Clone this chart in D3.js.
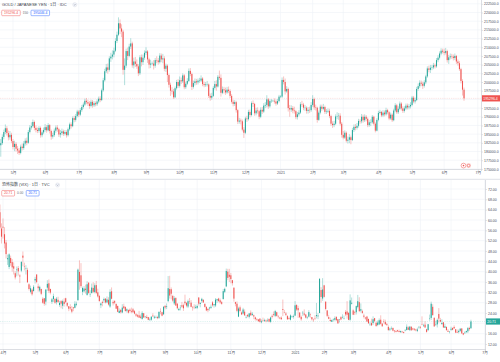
<!DOCTYPE html>
<html>
<head>
<meta charset="utf-8">
<script src="https://cdn.jsdelivr.net/npm/d3@7"></script>
<style>
html, body { margin: 0; padding: 0; background: #fff; }
svg { display: block; font-family: "Liberation Sans", Arial, "Noto Sans CJK JP", sans-serif; }
</style>
</head>
<body>
<div id="chart"></div>
<script>
// ---- data ----
var monthLabels = ["1月", "2月", "3月", "4月", "5月", "6月", "7月", "8月", "9月", "10月", "11月", "12月"];

var goldTitle = "GOLD / JAPANESE YEN · 1日 · IDC";
var goldQuote = ["195296.4", "150", "195446.4"];
var goldStart = new Date(2020, 3, 21);   // first bar, daily bars on weekdays
var goldHolidays = [];

var goldOpen = [
  181800,182400,184200,185600,186700,185300,184100,184800,183000,181300,
  182200,180800,180300,179600,181400,181000,182300,183100,182500,185600,
  186900,187300,188500,186800,186200,185900,186800,184700,185500,186200,
  187000,186100,187600,185900,184300,184700,186000,186900,186400,184900,
  185300,185800,185100,185600,184700,186400,187800,187300,189600,189100,
  190200,191500,190600,191900,192800,193500,194600,194200,193800,193100,
  194300,193300,193900,193600,194400,195200,194800,197600,200500,203100,
  204200,203500,206800,207300,207900,209000,211800,213600,216900,215400,
  214500,203500,204700,208900,207500,210200,211100,204800,205900,205200,
  204500,202500,207100,205700,207000,208400,208800,206500,205000,205300,
  205300,204700,206300,206200,205700,207600,206500,206800,203800,204700,
  202000,199200,197500,197300,195600,198200,200000,198900,200500,200200,
  201900,198500,199500,200300,203200,202300,198600,199700,200200,199900,
  200400,200400,201000,199400,199100,199300,199300,196000,195500,196000,
  198300,199400,198700,201500,201200,196900,197900,197600,197000,197800,
  197400,196000,194300,193700,194200,191900,188600,188900,188700,186300,
  185400,189500,189300,191400,190500,193900,193700,191000,191800,191600,
  190000,192000,191500,193200,193400,195000,193000,194500,194600,194600,
  194400,193800,194500,195800,195800,200600,200000,197300,198000,192500,
  192100,192500,191800,191600,189900,190700,191200,193600,193500,192600,
  192600,191700,192000,191900,193400,195100,192700,192600,189100,191200,
  192900,192300,192800,191400,191500,191700,190200,188000,187600,188000,
  190100,190200,190300,188000,184800,184000,185400,183100,183400,184100,
  183300,186200,187100,186800,187400,188800,188700,190000,189000,190000,
  189400,187600,188400,188400,190000,188000,186000,189100,191100,191400,
  190400,191200,190700,191900,191300,189500,190600,189000,191800,193300,
  191300,192300,193800,192400,191700,192400,193200,192700,193000,193400,
  195500,194400,194800,198000,198800,199800,199500,198900,199900,201600,
  203900,203500,204100,204200,204800,204500,206300,207000,208200,209000,
  208700,208400,208900,206300,207100,207400,207300,206900,207500,205900,
  205400,203700,200300,197800
];
var goldHigh = [
  183600,184900,186300,187800,187300,186000,185900,185400,183600,183100,
  182700,181600,181000,182000,182300,183000,183800,184000,186200,187600,
  188400,189200,188900,187500,186900,187300,187200,186100,186900,187900,
  187600,188200,187900,186300,185400,186600,187500,187600,186800,186200,
  186600,186300,186200,186100,186900,188300,188400,190100,190300,190800,
  192000,191900,192500,193400,194100,195200,195400,194900,194500,194900,
  194800,194500,194400,195000,195800,195900,198100,201200,203800,205200,
  205300,207400,208400,209100,209900,212600,214500,218600,218000,216600,
  215000,206800,209600,209900,211000,212600,211600,207000,207200,206500,
  205100,207700,207900,207900,209100,210000,209200,207000,206400,205900,
  206300,206900,207400,206900,208300,208200,208100,207400,205300,205100,
  202400,199800,198500,198000,198700,200600,200800,201600,201300,202500,
  202300,200100,201100,203900,204000,202700,200400,201000,200900,201000,
  201200,201900,201400,200100,200000,200300,199600,196700,196900,198800,
  200300,200500,202000,203300,202200,198700,198600,198400,198600,198700,
  197900,196500,194900,194800,194600,192200,189700,189500,189200,187000,
  190000,190300,192000,192100,194400,194700,194000,192600,192700,192000,
  192700,192800,193900,194200,196200,195400,195000,195100,194900,195300,
  195000,195100,196300,196200,201300,201600,201000,198800,198400,193400,
  193300,193100,192900,192000,191400,191900,194200,194600,194000,193400,
  193000,192800,192900,194200,196200,195500,193500,192900,191800,193500,
  193500,193700,193200,192200,192400,192300,190600,188700,188800,190700,
  191300,191100,191000,188500,185900,186100,185800,184300,185000,184600,
  186800,187800,187900,188200,189400,189300,190800,190600,190700,190500,
  189800,189000,189300,190500,190300,188400,189600,191700,192000,191700,
  191900,191800,192600,192300,191600,191200,191000,192300,193900,193700,
  193000,194400,194200,193000,193000,193800,193800,193700,194200,196000,
  196000,195500,198600,199600,200500,200400,200100,200500,202100,204500,
  204700,204900,204900,205500,205300,206900,207700,208800,209700,209600,
  209600,209800,209300,207800,208200,208100,207900,208200,207800,206500,
  206000,204100,200800,198400
];
var goldLow = [
  178500,181900,183500,185000,184600,183200,183400,182400,180600,180100,
  180000,179300,179000,179200,180300,180500,181700,181800,182200,185200,
  186300,186900,186100,185500,185300,185400,184000,184100,185000,185700,
  185400,185800,185200,183400,183700,184200,185400,185700,184200,184000,
  184700,184500,184600,184000,184300,186000,186600,187000,188400,188600,
  189800,189900,190200,191400,192300,193100,193600,193100,192300,192700,
  192600,192800,193000,193100,193900,194200,194500,197200,200100,202600,
  202400,203000,205800,206500,207100,208600,211200,213200,213800,212900,
  202100,199100,204100,206300,207100,209500,204100,203900,204300,203800,
  201700,202000,204500,204900,206400,207800,205500,203900,204000,204800,
  203600,204100,205400,205000,205300,205700,205400,203100,202900,200000,
  198400,196000,196400,195100,195300,197800,198300,198400,199400,199700,
  197900,198000,199100,200000,201700,197700,198100,199000,199200,199300,
  199800,200000,198800,198500,198600,198700,195400,194600,194900,195700,
  197800,197500,198400,200600,195800,196500,196700,196300,196600,196800,
  195400,193800,193000,193100,191200,187900,188000,187800,185800,183900,
  185000,188500,188900,189800,190100,192800,190300,190400,190900,189300,
  189600,190800,191100,192500,192700,192300,192600,194000,194300,193800,
  193200,193400,194100,195400,195400,199300,196400,196900,191500,190000,
  191400,191000,190900,189300,189200,190100,190800,192800,191900,191700,
  190900,190900,191100,191400,192900,192000,191800,188300,188800,190700,
  191700,191900,190800,190800,191100,189600,187400,186800,187000,187600,
  189300,189100,187500,184000,183500,183600,182600,182300,182400,182100,
  183000,185600,186100,186300,186900,188000,188100,188300,188500,188700,
  187000,187100,187300,188000,187500,185500,185800,188700,190700,189900,
  189900,190100,190300,190700,189000,189100,188500,188700,191300,190800,
  190800,191900,191800,191100,191200,191900,192100,192100,192400,193000,
  193900,193800,194500,197500,198300,198800,198000,198400,199400,201200,
  202800,202600,203400,203700,203900,204100,205700,206500,207700,208200,
  207700,207900,205600,205200,206500,206600,206200,206300,205200,204700,
  203200,199600,196100,194600
];
var goldClose = [
  182400,184200,185600,186700,185300,184100,184800,183000,181300,182200,
  180800,180300,179600,181400,181000,182300,183100,182500,185600,186900,
  187300,188500,186800,186200,185900,186800,184700,185500,186200,187000,
  186100,187600,185900,184300,184700,186000,186900,186400,184900,185300,
  185800,185100,185600,184700,186400,187800,187300,189600,189100,190200,
  191500,190600,191900,192800,193500,194600,194200,193800,193100,194300,
  193300,193900,193600,194400,195200,194800,197600,200500,203100,204200,
  203500,206800,207300,207900,209000,211800,213600,216900,215400,214500,
  203500,204700,208900,207500,210200,211100,204800,205900,205200,204500,
  202500,207100,205700,207000,208400,208800,206500,205000,205300,205300,
  204700,206300,206200,205700,207600,206500,206800,203800,204700,202000,
  199200,197500,197300,195600,198200,200000,198900,200500,200200,201900,
  198500,199500,200300,203200,202300,198600,199700,200200,199900,200400,
  200400,201000,199400,199100,199300,199300,196000,195500,196000,198300,
  199400,198700,201500,201200,196900,197900,197600,197000,197800,197400,
  196000,194300,193700,194200,191900,188600,188900,188700,186300,185400,
  189500,189300,191400,190500,193900,193700,191000,191800,191600,190000,
  192000,191500,193200,193400,195000,193000,194500,194600,194600,194400,
  193800,194500,195800,195800,200600,200000,197300,198000,192500,192100,
  192500,191800,191600,189900,190700,191200,193600,193500,192600,192600,
  191700,192000,191900,193400,195100,192700,192600,189100,191200,192900,
  192300,192800,191400,191500,191700,190200,188000,187600,188000,190100,
  190200,190300,188000,184800,184000,185400,183100,183400,184100,183300,
  186200,187100,186800,187400,188800,188700,190000,189000,190000,189400,
  187600,188400,188400,190000,188000,186000,189100,191100,191400,190400,
  191200,190700,191900,191300,189500,190600,189000,191800,193300,191300,
  192300,193800,192400,191700,192400,193200,192700,193000,193400,195500,
  194400,194800,198000,198800,199800,199500,198900,199900,201600,203900,
  203500,204100,204200,204800,204500,206300,207000,208200,209000,208700,
  208400,208900,206300,207100,207400,207300,206900,207500,205900,205400,
  203700,200300,197800,195296.4
];

var vixTitle = "恐怖指数 (VIX) · 1日 · TVC";
var vixQuote = ["20.71", "0.00", "20.71"];
var vixStart = new Date(2020, 2, 30);
var vixHolidays = ["2020-04-10", "2020-05-25", "2020-07-03", "2020-09-07", "2020-11-26", "2020-12-25",
  "2021-01-01", "2021-01-18", "2021-02-15", "2021-04-02", "2021-05-31"];

var vixOpen = [
  63.0,56.7,
  57.4,54.5,51.3,44.8,41.8,45.3,43.7,42.1,39.4,40.6,41.4,38.5,40.4,46.2,42.1,41.2,40.7,35.1,32.2,33.0,32.5,
  36.6,38.9,34.3,32.7,33.3,29.5,29.7,28.4,33.8,35.5,33.3,28.3,29.4,29.5,28.2,29.1,27.1,28.6,26.8,28.4,
  29.7,27.9,26.6,26.2,25.5,26.2,26.0,27.2,29.0,39.9,38.6,32.2,32.4,33.4,31.0,35.7,31.2,31.7,33.7,32.1,34.8,32.0,
  30.6,27.0,28.3,28.9,29.6,28.1,29.1,26.5,32.4,28.3,28.6,27.5,26.7,24.0,25.2,24.2,26.6,26.3,24.9,25.1,25.3,24.7,
  25.4,24.7,23.5,23.1,23.1,22.6,21.7,23.9,22.5,22.5,22.4,21.4,21.4,23.0,22.2,22.3,22.4,22.1,24.6,24.3,23.5,
  26.8,26.3,28.6,33.3,33.2,30.6,27.7,29.8,27.6,25.1,25.9,27.0,27.0,28.4,27.9,26.5,28.6,28.0,26.4,26.4,26.0,
  26.0,30.0,27.5,28.6,29.1,27.5,26.4,25.6,25.8,26.0,28.1,27.0,26.9,28.9,29.6,28.9,28.2,29.4,32.2,34.3,40.0,38.8,
  38.6,36.7,33.8,28.2,27.6,22.6,26.2,24.2,23.8,24.5,22.3,23.3,22.5,24.1,23.2,23.1,22.3,21.5,21.5,21.8,
  20.4,21.3,21.0,21.1,21.2,21.7,20.6,22.9,23.6,22.9,24.3,22.6,22.2,22.2,25.5,24.3,23.8,22.8,22.0,21.4,22.6,22.5,
  23.0,27.1,25.9,24.2,22.5,24.0,23.8,23.4,22.2,22.6,23.4,22.4,21.4,22.0,22.8,22.7,24.0,32.9,29.6,
  34.7,28.4,25.0,22.4,21.3,20.6,21.6,21.4,22.5,21.6,21.4,22.4,22.3,21.9,24.4,24.6,24.1,21.4,27.6,
  25.0,24.3,24.3,26.3,28.2,24.9,24.7,23.0,22.2,22.6,21.7,19.7,20.1,20.1,22.0,20.2,19.4,19.6,21.4,19.9,20.9,20.5,19.7,
  18.6,17.6,18.1,18.2,17.2,17.0,17.3,17.0,16.6,16.8,16.6,17.2,17.4,18.4,17.4,18.7,18.0,17.9,17.6,17.1,18.6,
  18.5,19.5,19.1,19.5,17.7,17.4,21.7,22.1,26.4,22.1,19.7,19.6,23.6,21.3,19.7,20.4,18.3,18.6,17.1,16.7,
  17.5,18.2,18.6,17.7,16.7,16.6,17.1,18.0,16.2,16.2,16.6,16.9,18.2,18.1
];
var vixHigh = [
  66.0,58.7,
  60.6,57.2,52.3,46.6,47.1,46.2,44.9,43.6,40.2,42.0,42.2,39.0,43.9,47.8,43.5,42.5,41.5,35.5,34.6,33.5,34.8,
  38.0,39.0,35.4,34.6,33.4,30.1,29.8,33.3,36.7,37.0,33.4,29.8,31.5,29.6,30.2,30.3,28.7,29.0,29.2,29.7,
  29.9,28.1,26.7,27.4,26.7,26.2,28.6,28.4,41.2,44.4,43.3,34.2,34.4,35.0,36.3,36.0,32.8,35.4,35.9,35.5,36.4,33.4,
  31.0,28.0,28.8,30.0,29.6,30.4,30.1,33.2,33.9,28.9,29.0,27.7,26.9,25.8,25.5,27.4,27.6,26.6,25.8,25.4,25.8,26.1,
  25.9,25.1,24.0,23.6,24.8,23.4,24.7,24.0,22.8,23.3,22.5,22.2,22.8,23.9,23.0,23.0,22.9,24.5,25.8,24.5,26.6,
  26.9,27.7,38.3,38.4,33.9,31.0,30.5,30.1,27.8,26.0,27.1,28.3,27.6,31.1,28.2,29.2,29.8,29.0,26.5,27.4,27.2,
  27.3,30.1,28.0,29.9,29.3,27.8,26.5,25.8,26.4,27.3,28.6,27.5,29.8,29.5,29.9,29.6,28.7,33.3,33.8,41.2,41.1,41.1,
  39.5,36.8,33.9,28.4,28.5,26.4,26.9,24.6,26.0,25.4,23.2,23.5,24.0,25.0,24.4,23.4,22.6,22.0,21.6,22.0,
  21.5,22.2,21.8,21.5,21.9,21.9,22.6,23.5,24.6,25.2,24.5,23.2,22.5,22.7,29.2,25.2,24.4,23.2,22.6,23.5,23.0,23.4,
  28.6,27.4,26.8,24.2,23.0,24.8,25.4,23.6,22.8,25.1,23.8,22.4,21.8,23.1,27.9,24.0,37.5,34.0,37.5,
  34.9,28.4,25.1,23.3,22.2,21.5,21.9,22.7,22.7,21.7,21.6,22.8,23.5,23.0,25.1,28.6,24.1,31.2,30.0,
  25.4,24.8,26.9,31.0,30.1,27.7,25.3,23.7,22.5,22.9,21.8,20.6,21.8,22.7,22.1,20.7,21.1,21.9,23.1,20.0,21.6,21.4,20.2,
  19.2,18.3,18.8,18.4,17.3,17.5,17.5,17.6,17.2,17.1,16.8,17.8,19.6,18.9,19.0,18.8,18.3,18.1,17.9,18.3,19.0,
  19.0,22.7,19.8,20.8,17.9,19.7,23.4,28.4,27.4,22.4,21.0,21.9,25.9,22.1,21.6,20.4,19.8,18.8,17.8,17.0,
  18.7,18.4,19.2,17.8,17.6,17.6,18.2,18.1,16.3,16.9,17.2,18.6,18.7,21.4
];
var vixLow = [
  56.6,50.9,
  52.8,49.0,45.1,42.6,41.0,42.3,40.0,38.9,37.0,38.2,38.5,35.6,39.8,42.1,40.5,38.9,35.6,32.7,31.6,30.7,32.3,
  35.4,35.5,32.3,32.1,30.9,27.6,26.8,27.0,32.6,31.7,31.2,27.5,28.3,27.6,27.3,28.1,26.4,25.8,25.5,26.5,
  27.9,26.3,24.7,25.1,23.9,24.7,25.8,26.6,28.6,33.0,33.7,30.9,31.9,31.5,30.7,31.4,30.2,31.6,31.7,31.6,31.3,30.0,
  28.4,25.9,26.6,27.9,27.7,27.8,26.9,26.0,29.3,26.9,27.4,25.5,24.3,23.9,23.8,23.9,25.5,24.6,24.2,23.8,24.2,23.9,
  24.1,23.5,22.5,22.3,22.1,21.8,21.4,22.1,21.9,21.9,21.2,20.9,21.0,22.5,21.7,22.0,21.6,21.7,23.5,22.7,23.3,
  25.4,25.5,28.2,29.6,29.3,28.3,27.1,26.9,25.4,24.9,25.0,26.0,24.8,27.0,26.2,25.9,27.5,26.2,24.9,25.5,25.6,
  25.5,26.9,26.2,27.9,28.0,26.1,24.7,24.3,24.9,25.6,26.5,26.1,26.3,27.9,28.2,27.6,27.2,29.2,31.7,34.0,36.7,36.0,
  35.5,34.6,28.4,26.6,24.3,22.4,24.3,23.2,23.4,22.9,21.9,22.3,21.9,22.9,22.9,21.6,21.1,21.1,20.6,20.3,
  20.0,20.6,20.6,20.4,20.5,20.4,20.2,21.9,22.7,22.4,22.6,21.9,21.6,21.4,22.8,23.9,22.8,21.5,21.4,21.1,22.1,21.8,
  22.8,24.8,22.1,22.0,21.0,22.9,22.8,21.9,21.6,22.3,22.2,21.1,20.6,21.3,21.9,21.6,23.9,28.0,28.7,
  30.0,25.0,22.4,21.6,20.7,20.5,20.7,21.0,20.9,19.9,20.3,21.2,21.9,21.5,22.8,21.8,21.2,21.0,27.3,
  23.2,23.2,23.4,25.8,24.6,24.2,23.7,21.9,21.4,20.6,19.8,19.0,19.0,19.4,20.4,18.9,18.9,19.3,19.5,18.7,20.0,19.6,19.0,
  17.3,17.0,17.5,16.9,16.4,16.5,16.8,16.5,16.3,16.3,16.1,16.9,17.3,17.4,17.0,17.1,17.3,17.1,16.9,16.6,17.9,
  17.9,19.3,18.6,18.3,16.4,17.0,21.0,21.3,23.1,18.7,19.0,18.4,20.3,20.4,19.5,18.3,18.2,17.2,16.7,16.1,
  17.1,17.3,17.9,16.2,16.3,16.1,16.7,16.0,15.4,15.9,16.2,16.2,17.1,17.9
];
var vixClose = [
  57.08,53.54,
  57.06,50.91,46.80,45.24,46.70,43.35,41.67,41.17,37.76,40.84,40.11,38.15,43.83,45.41,41.98,41.38,35.93,33.29,33.57,31.23,34.15,
  37.19,35.97,33.61,34.12,31.44,27.98,27.57,33.04,35.28,32.61,31.89,29.30,30.53,27.99,29.53,28.16,27.91,27.62,28.59,27.51,
  28.23,26.84,25.66,25.81,24.52,25.81,27.57,27.57,40.79,36.09,34.40,33.67,33.47,32.94,35.12,31.77,31.37,33.84,32.22,34.73,31.78,30.43,
  28.62,27.68,27.94,29.43,28.08,29.26,27.29,32.19,29.52,27.76,28.00,25.68,24.46,24.84,24.32,26.08,25.84,24.74,25.44,24.10,24.76,24.46,
  24.28,23.76,22.99,22.65,22.21,22.13,24.03,22.28,22.59,22.05,21.35,21.51,22.54,22.72,22.54,22.37,22.03,24.47,24.47,22.96,26.41,
  26.12,26.57,33.60,30.75,31.46,28.81,29.71,26.87,25.85,25.59,26.04,26.46,25.83,27.78,26.86,28.58,28.51,26.38,26.19,26.27,26.37,
  26.70,27.63,27.96,29.48,28.06,26.36,25.00,25.07,26.07,26.40,26.97,27.41,29.18,29.35,28.65,28.11,27.55,32.46,33.35,40.28,37.59,38.02,
  37.13,35.55,29.57,27.58,24.86,25.75,24.80,23.45,25.35,23.10,22.45,22.71,23.84,23.11,23.70,22.66,21.64,21.25,20.84,20.57,
  20.77,21.17,21.28,20.79,21.30,20.68,22.27,22.52,23.31,24.72,22.89,22.50,21.93,21.57,25.16,24.23,23.31,21.53,21.70,23.08,22.77,22.75,
  26.97,25.34,25.07,22.37,21.56,24.08,23.33,22.21,22.25,24.34,23.24,21.58,21.32,21.91,23.19,23.02,37.21,30.21,33.09,
  30.24,25.56,22.91,21.77,20.87,21.24,21.63,21.99,21.25,19.97,21.46,21.50,22.49,22.05,23.45,23.34,21.34,28.89,27.95,
  23.35,24.10,26.67,28.57,24.66,25.47,24.03,22.56,21.91,20.69,20.03,19.79,19.23,21.58,20.95,18.88,20.30,21.20,19.81,18.86,20.74,19.61,19.40,
  17.33,17.91,18.12,17.16,16.95,16.69,16.91,16.65,16.99,16.57,16.25,17.30,18.68,17.50,18.71,17.33,17.64,17.56,17.28,17.61,18.61,
  18.31,19.48,19.15,18.39,16.69,19.66,21.84,27.59,23.13,18.81,19.72,21.34,21.84,20.67,20.15,18.40,18.84,17.36,16.74,16.76,
  17.90,17.48,18.04,16.42,16.42,17.07,17.89,16.10,15.65,16.39,17.02,18.15,17.75,20.71
];

// ---- style ----
var upColor = "#26a69a", downColor = "#ef5350", blueColor = "#2962ff";
var gridColor = "#eef1f6", axisColor = "#c5c8d0", textColor = "#4c505b";

var dayKey = d3.timeFormat("%Y-%m-%d");

// weekday calendar (no bars on weekends / listed holidays)
function tradingDays(start, end, holidays) {
    var hol = new Set(holidays);
    return d3.timeDays(start, end).filter(function(d) {
        var w = d.getDay();
        return w !== 0 && w !== 6 && !hol.has(dayKey(d));
    });
}

var svg = d3.select("#chart").append("svg")
    .attr("width", 500)
    .attr("height", 362);
svg.append("rect").attr("width", 500).attr("height", 362).attr("fill", "#fff");

function drawPanel(p) {
    var n = Math.min(p.open.length, p.high.length, p.low.length, p.close.length);
    var x = d3.scaleLinear().domain(p.xDomain).range([p.x0, p.right]);
    var y = d3.scaleLinear().domain(p.yDomain).range(p.yRange);
    var step = x(1) - x(0);

    // month boundaries
    var months = [];
    p.dates.forEach(function(d, i) {
        if (i > 0 && d.getMonth() !== p.dates[i - 1].getMonth() && x(i) <= p.right + 1) months.push(i);
    });
    function monthLabel(i) {
        var d = p.dates[i];
        return d.getMonth() === 0 ? String(d.getFullYear()) : monthLabels[d.getMonth()];
    }

    var g = svg.append("g");

    // grid
    g.selectAll(".hgrid").data(p.yTicks).enter().append("line")
        .attr("x1", 0).attr("x2", p.right)
        .attr("y1", function(d) { return y(d); }).attr("y2", function(d) { return y(d); })
        .attr("stroke", gridColor).attr("stroke-width", 0.6);
    g.selectAll(".vgrid").data(months).enter().append("line")
        .attr("x1", function(i) { return x(i); }).attr("x2", function(i) { return x(i); })
        .attr("y1", p.top).attr("y2", p.bottom)
        .attr("stroke", gridColor).attr("stroke-width", 0.6);

    // clip for candles
    svg.append("clipPath").attr("id", "clip-" + p.id)
        .append("rect").attr("x", 0).attr("y", p.top)
        .attr("width", p.right).attr("height", p.bottom - p.top);

    var bars = d3.range(n).map(function(i) {
        return { i: i, o: p.open[i], h: p.high[i], l: p.low[i], c: p.close[i] };
    });
    var color = function(d) { return d.c >= d.o ? upColor : downColor; };

    var last = bars[n - 1];
    var lastColor = color(last);

    var cg = svg.append("g").attr("clip-path", "url(#clip-" + p.id + ")");

    // last price line
    cg.append("line")
        .attr("x1", 0).attr("x2", p.right)
        .attr("y1", y(last.c)).attr("y2", y(last.c))
        .attr("stroke", lastColor).attr("stroke-opacity", 0.25)
        .attr("stroke-width", 0.6).attr("stroke-dasharray", "1.2,1");

    cg.selectAll(".wick").data(bars).enter().append("line")
        .attr("x1", function(d) { return x(d.i); })
        .attr("x2", function(d) { return x(d.i); })
        .attr("y1", function(d) { return y(Math.max(d.h, d.o, d.c)); })
        .attr("y2", function(d) { return y(Math.min(d.l, d.o, d.c)); })
        .attr("stroke", color).attr("stroke-opacity", 0.7)
        .attr("stroke-width", 0.5);

    var bw = step * 0.68;
    cg.selectAll(".body").data(bars).enter().append("rect")
        .attr("x", function(d) { return x(d.i) - bw / 2; })
        .attr("width", bw)
        .attr("y", function(d) { return y(Math.max(d.o, d.c)); })
        .attr("height", function(d) { return Math.max(0.4, Math.abs(y(d.o) - y(d.c))); })
        .attr("fill", color);

    // price axis (right)
    var lastY = y(last.c);
    var yAxis = d3.axisRight(y)
        .tickValues(p.yTicks.filter(function(v) { return Math.abs(y(v) - lastY) > 4.5; }))
        .tickSize(1.5).tickPadding(1)
        .tickFormat(p.yFormat);
    var ya = svg.append("g").attr("transform", "translate(" + (p.right + 0.5) + ",0)").call(yAxis);
    ya.select(".domain").remove();
    ya.selectAll("line").attr("stroke", axisColor).attr("stroke-width", 0.5);
    ya.selectAll("text").attr("font-size", 3.5).attr("fill", textColor)
        .attr("font-family", "Liberation Sans, Arial, sans-serif");
    svg.append("line")
        .attr("x1", p.right + 0.5).attr("x2", p.right + 0.5)
        .attr("y1", p.top).attr("y2", p.bottom + 2)
        .attr("stroke", axisColor).attr("stroke-width", 0.6);

    // current price tag
    svg.append("rect")
        .attr("x", p.right + 1).attr("y", lastY - 3.1)
        .attr("width", 500 - p.right - 1).attr("height", 6.2)
        .attr("fill", lastColor);
    svg.append("text")
        .attr("x", p.right + 2.2).attr("y", lastY + 1.2)
        .attr("font-size", 3.5).attr("fill", "#fff")
        .text(p.yFormat(last.c));

    // time axis
    var xAxis = d3.axisBottom(x).tickValues(months).tickFormat(monthLabel)
        .tickSize(1.5).tickPadding(0.8);
    var xa = svg.append("g").attr("transform", "translate(0," + (p.bottom + 0.5) + ")").call(xAxis);
    xa.select(".domain").remove();
    xa.selectAll("line").attr("stroke", axisColor).attr("stroke-width", 0.5);
    xa.selectAll("text").attr("font-size", 3.7).attr("fill", textColor)
        .attr("font-family", "Liberation Sans, Arial, 'Noto Sans CJK JP', sans-serif");
    svg.append("line")
        .attr("x1", 0).attr("x2", p.right + 0.5)
        .attr("y1", p.bottom + 0.5).attr("y2", p.bottom + 0.5)
        .attr("stroke", axisColor).attr("stroke-width", 0.6);

    // legend
    var title = svg.append("text")
        .attr("x", 2).attr("y", p.legendY + 1.4)
        .attr("font-size", 4).attr("fill", "#3b3f4a")
        .text(p.title);
    var tw = title.node().getComputedTextLength();
    var bx = 2 + tw + 8;
    svg.append("circle").attr("cx", bx).attr("cy", p.legendY)
        .attr("r", 2.1).attr("fill", "#f0f3fa").attr("stroke", "#d6d9e0").attr("stroke-width", 0.4);
    svg.append("path")
        .attr("d", "M" + (bx - 0.9) + "," + (p.legendY - 0.4) + "l0.9,0.9l0.9,-0.9")
        .attr("fill", "none").attr("stroke", "#6a6d78").attr("stroke-width", 0.4);

    var qy = p.legendY + 5.5, qh = 5.5;
    var sell = svg.append("text").attr("y", qy + qh / 2 + 1.2).attr("font-size", 3.4)
        .attr("fill", downColor).text(p.quote[0]);
    var sw = sell.node().getComputedTextLength();
    svg.append("rect").attr("x", 1.7).attr("y", qy).attr("width", sw + 4.4).attr("height", qh)
        .attr("rx", 0.8).attr("fill", "#fff").attr("stroke", downColor).attr("stroke-width", 0.45);
    sell.attr("x", 1.7 + 2.2).raise();
    var sx = 1.7 + sw + 4.4 + 2.4;
    var spread = svg.append("text").attr("x", sx).attr("y", qy + qh / 2 + 1.2)
        .attr("font-size", 3.2).attr("fill", "#6a6d78").text(p.quote[1]);
    var bx2 = sx + spread.node().getComputedTextLength() + 3;
    var buy = svg.append("text").attr("y", qy + qh / 2 + 1.2).attr("font-size", 3.4)
        .attr("fill", blueColor).text(p.quote[2]);
    var bw2 = buy.node().getComputedTextLength();
    svg.append("rect").attr("x", bx2).attr("y", qy).attr("width", bw2 + 4.4).attr("height", qh)
        .attr("rx", 0.8).attr("fill", "#fff").attr("stroke", blueColor).attr("stroke-width", 0.45);
    buy.attr("x", bx2 + 2.2).raise();

    return { x: x, y: y };
}

var goldDates = tradingDays(goldStart, new Date(2021, 6, 3), goldHolidays);
var vixDates = tradingDays(vixStart, new Date(2021, 6, 3), vixHolidays);

drawPanel({
    id: "gold", dates: goldDates,
    open: goldOpen, high: goldHigh, low: goldLow, close: goldClose,
    xDomain: [0, 314.1], x0: 0.77, right: 481,
    top: 0, bottom: 169,
    yDomain: [175000, 222500], yRange: [168.9, 3.8],
    yTicks: d3.range(175000, 222501, 2500), yFormat: d3.format(".1f"),
    title: goldTitle, quote: goldQuote, legendY: 4.7
});

// events badge (bottom right of upper pane)
svg.append("circle").attr("cx", 463.5).attr("cy", 165.6).attr("r", 2.4)
    .attr("fill", "#fff").attr("stroke", downColor).attr("stroke-width", 0.5);
svg.append("circle").attr("cx", 463.5).attr("cy", 165.6).attr("r", 0.8).attr("fill", downColor);
svg.append("circle").attr("cx", 468.6).attr("cy", 165.6).attr("r", 2.4)
    .attr("fill", "#f6a29f").attr("stroke", "#fff").attr("stroke-width", 0.4);
svg.append("circle").attr("cx", 468.6).attr("cy", 165.6).attr("r", 0.8).attr("fill", "#fff");

// pane separator
svg.append("line").attr("x1", 0).attr("x2", 500).attr("y1", 179.3).attr("y2", 179.3)
    .attr("stroke", "#d1d4dc").attr("stroke-width", 0.7);

drawPanel({
    id: "vix", dates: vixDates,
    open: vixOpen, high: vixHigh, low: vixLow, close: vixClose,
    xDomain: [0, 317.2], x0: -0.06, right: 485,
    top: 180, bottom: 349,
    yDomain: [12, 72], yRange: [344, 189],
    yTicks: d3.range(12, 72.01, 4), yFormat: d3.format(".2f"),
    title: vixTitle, quote: vixQuote, legendY: 185
});
</script>
</body>
</html>
